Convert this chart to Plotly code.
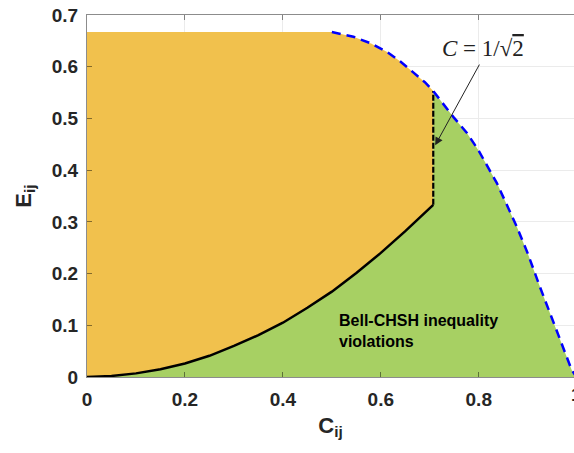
import plotly.graph_objects as go

# Lower boundary (black solid curve)
low_c = [0, 0.05, 0.1, 0.15, 0.2, 0.25, 0.3, 0.35, 0.4, 0.45, 0.5, 0.55, 0.6, 0.65, 0.7071]
low_e = [0, 0.002, 0.007, 0.015, 0.026, 0.041, 0.060, 0.081, 0.105, 0.134, 0.165, 0.201, 0.240, 0.282, 0.333]

# Upper boundary (blue dashed curve)
up_c = [0.5, 0.544, 0.58, 0.612, 0.64, 0.66, 0.69, 0.7071, 0.748, 0.775, 0.799,
        0.837, 0.878, 0.9, 0.925, 0.959, 0.99, 1.0]
up_e = [0.667, 0.658, 0.645, 0.629, 0.610, 0.594, 0.570, 0.553, 0.503, 0.473, 0.439,
        0.375, 0.290, 0.239, 0.174, 0.090, 0.013, 0.0]

# Plateau of the upper boundary
flat_c = [0, 0.5]
flat_e = [0.667, 0.667]

# Threshold C = 1/sqrt(2)
c_thr = 0.7071
thr_e = [0.333, 0.553]

x_ticks = [0, 0.2, 0.4, 0.6, 0.8, 1]
x_labels = ["0", "0.2", "0.4", "0.6", "0.8", "1"]
y_ticks = [0, 0.1, 0.2, 0.3, 0.4, 0.5, 0.6, 0.7]

ORANGE = "#F1C14D"
GREEN = "#A7D063"
FONT = "Liberation Sans, Arial, sans-serif"
X_MAX_VISIBLE = 0.9945

# Build the fill polygons from the boundaries
up_left_c = [c for c in up_c if c <= c_thr]
up_left_e = [e for c, e in zip(up_c, up_e) if c <= c_thr]
up_right_c = [c for c in up_c if c >= c_thr]
up_right_e = [e for c, e in zip(up_c, up_e) if c >= c_thr]

orange_x = low_c + [c_thr] + up_left_c[::-1] + [flat_c[0]] + [low_c[0]]
orange_y = low_e + [thr_e[1]] + up_left_e[::-1] + [flat_e[0]] + [low_e[0]]

green_x = low_c + [c_thr] + up_right_c + [low_c[0]]
green_y = low_e + [thr_e[1]] + up_right_e + [low_e[0]]

fig = go.Figure()
fig.add_trace(go.Scatter(x=orange_x, y=orange_y, fill="toself", fillcolor=ORANGE,
                         line=dict(width=0), mode="lines", hoverinfo="skip", showlegend=False))
fig.add_trace(go.Scatter(x=green_x, y=green_y, fill="toself", fillcolor=GREEN,
                         line=dict(width=0), mode="lines", hoverinfo="skip", showlegend=False))
fig.add_trace(go.Scatter(x=low_c, y=low_e, mode="lines",
                         line=dict(color="black", width=2.5), showlegend=False))
fig.add_trace(go.Scatter(x=[c_thr, c_thr], y=thr_e, mode="lines",
                         line=dict(color="black", width=2.2, dash="6px,2px"), showlegend=False))
fig.add_trace(go.Scatter(x=up_c, y=up_e, mode="lines",
                         line=dict(color="#0000FF", width=2.5, dash="9px,6px"), showlegend=False))

axis_line = "rgba(0,0,0,0.45)"
tickfont = dict(size=19, family=FONT, color="#262626", weight="bold")
fig.update_layout(
    width=574, height=453, autosize=False,
    margin=dict(l=87, r=0, t=15, b=76, autoexpand=False),
    paper_bgcolor="white", plot_bgcolor="white",
    font=dict(family=FONT, color="#262626"),
    xaxis=dict(range=[0, X_MAX_VISIBLE], tickvals=x_ticks, ticktext=x_labels, automargin=False,
               showgrid=True, gridcolor="#EBEBEB", gridwidth=1, zeroline=False,
               showline=True, linecolor=axis_line, linewidth=1, mirror="ticks",
               ticks="inside", ticklen=5, tickcolor=axis_line,
               tickfont=tickfont, ticklabelstandoff=5,
               title=dict(text="<b>C<sub>ij</sub></b>", font=dict(size=22, family=FONT, color="#262626"),
                          standoff=8)),
    yaxis=dict(range=[0, 0.7], tickvals=y_ticks, automargin=False,
               showgrid=True, gridcolor="#EBEBEB", gridwidth=1, zeroline=False,
               showline=True, linecolor=axis_line, linewidth=1,
               ticks="inside", ticklen=5, tickcolor=axis_line,
               tickfont=tickfont, ticklabelstandoff=4,
               title=dict(text="<b>E<sub>ij</sub></b>", font=dict(size=22, family=FONT, color="#262626"),
                          standoff=14)),
)

# The "1" tick label sits at the clipped right edge of the axis
fig.add_annotation(x=x_ticks[-1] / X_MAX_VISIBLE, y=0, xref="paper", yref="paper", yshift=-5,
                   xanchor="left", xshift=-8, yanchor="top", showarrow=False,
                   text="<b>" + x_labels[-1] + "</b>", font=tickfont)

fig.add_annotation(x=0.711, y=0.448, ax=0.803, ay=0.607, xref="x", yref="y", axref="x", ayref="y",
                   text="", showarrow=True, arrowhead=2, arrowsize=1.6, arrowwidth=1, arrowcolor="#222")
fig.add_annotation(x=0.809, y=0.636, xref="x", yref="y", showarrow=False,
                   text="<i>C</i> = 1/√<span style='text-decoration:overline'>2</span>",
                   font=dict(family="Liberation Serif, DejaVu Serif, serif", size=23, color="#222"))
fig.add_annotation(x=0.51, y=0.088, xref="x", yref="y", showarrow=False, xanchor="left", align="left",
                   text="<b>Bell-CHSH inequality<br>violations</b>",
                   font=dict(family=FONT, size=16, color="black"))

fig.write_html("out.html", config={"displayModeBar": False},
               post_script="document.body.style.margin='0';document.body.style.overflow='hidden';")
